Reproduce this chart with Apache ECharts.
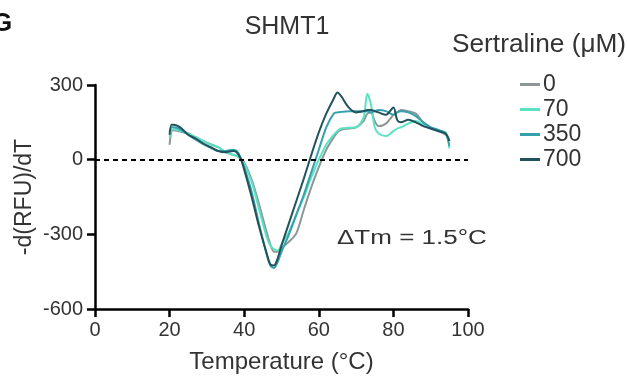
<!DOCTYPE html>
<html><head><meta charset="utf-8">
<script src="https://cdn.jsdelivr.net/npm/echarts@6/dist/echarts.min.js"></script>
<style>html,body{margin:0;padding:0;background:#fff}#c{width:627px;height:379px}</style>
</head><body><div id="c"></div>
<script>
const temps = [20,20.5,21,23,25,27,29,31,33,35,37,38,39,40,42,44,46,47,48,49,50,52,54,56,58,60,62,64,65,66,68,70,72,73,74,75,76,78,80,81,82,84,86,88,90,92,94,95];
const s0   = [60,115,118,112,105,90,75,62,50,30,20,15,5,-10,-80,-180,-290,-340,-370,-370,-355,-330,-295,-200,-110,-30,40,90,110,120,125,130,155,185,190,155,135,145,180,190,200,195,185,150,130,115,100,80];
const s70  = [90,120,122,115,105,90,75,60,50,30,20,15,5,-15,-90,-200,-310,-345,-360,-365,-340,-290,-220,-150,-70,0,60,100,115,125,128,130,170,265,220,130,105,95,115,125,130,145,155,140,125,115,110,45];
const s350 = [110,130,130,120,100,80,62,48,35,35,40,35,10,-30,-130,-260,-380,-425,-435,-410,-370,-300,-220,-140,-50,40,130,185,190,192,195,195,195,195,190,195,200,195,180,190,195,190,175,150,130,120,105,55];
const s700 = [100,140,140,128,100,85,65,50,35,30,35,30,5,-40,-150,-270,-375,-420,-425,-395,-345,-255,-165,-75,20,110,185,245,270,255,210,190,195,200,200,195,190,180,210,160,150,160,150,135,125,115,105,75];
const seriesNames = ['0','70','350','700'];
const seriesData = [s0, s70, s350, s700];
const colors = ['#8f9697','#5ae3c3','#36a0ac','#21535e'];
const xTicks = {min:0, max:100, interval:20};
const yTicks = {min:-600, max:300, interval:300};

const font = 'Liberation Sans, Arial, Helvetica, sans-serif';
const chart = echarts.init(document.getElementById('c'));
const series = seriesNames.map((n,i)=>({
  name:n, type:'line', smooth:0.3, symbol:'none',
  data: temps.map((t,j)=>[t, seriesData[i][j]]),
  lineStyle:{width:2, color:colors[i]}, itemStyle:{color:colors[i]}, z:3
}));
series[0].markLine = {
  symbol:'none', silent:true, label:{show:false},
  lineStyle:{type:[5,4], color:'#000', width:2},
  data:[[{coord:[0,0]},{coord:[100,0]}]]
};
chart.setOption({
  animation:false,
  textStyle:{fontFamily:font},
  title:{text:'SHMT1', left:282, top:10, textAlign:'center',
    textStyle:{fontFamily:font, fontSize:25, fontWeight:'normal', color:'#333'}},
  grid:{left:95, right:159, top:85, bottom:69},
  legend:{
    orient:'vertical', left:515, top:68, icon:'rect', itemWidth:20, itemHeight:3, itemGap:2,
    textStyle:{fontFamily:font, fontSize:23, color:'#333', padding:[0,0,0,-2], lineHeight:23},
    data:seriesNames
  },
  xAxis:{type:'value', min:xTicks.min, max:xTicks.max, interval:xTicks.interval,
    name:'Temperature (°C)', nameLocation:'middle', nameGap:41,
    nameTextStyle:{fontFamily:font, fontSize:24, color:'#333'},
    axisLine:{onZero:false, lineStyle:{color:'#000', width:2.5}},
    axisTick:{length:8, lineStyle:{color:'#000', width:2.5}},
    axisLabel:{fontFamily:font, fontSize:20, color:'#333', margin:11},
    splitLine:{show:false}},
  yAxis:{type:'value', min:yTicks.min, max:yTicks.max, interval:yTicks.interval,
    name:'-d(RFU)/dT', nameLocation:'middle', nameGap:59, nameRotate:90, nameMoveOverlap:false,
    nameTextStyle:{fontFamily:font, fontSize:23, color:'#333'},
    axisLine:{show:true, onZero:false, lineStyle:{color:'#000', width:2.5}},
    axisTick:{show:true, length:8, lineStyle:{color:'#000', width:2.5}},
    axisLabel:{fontFamily:font, fontSize:20, color:'#333', margin:12},
    splitLine:{show:false}},
  graphic:[
    {type:'text', left:-8, top:11, style:{text:'G', font:'bold 26px '+font, fill:'#111'}},
    {type:'text', x:452, y:33, scaleX:1.05, style:{text:'Sertraline (μM)', font:'25px '+font, fill:'#333'}},
    {type:'text', x:337, y:228, scaleX:1.3, style:{text:'ΔTm = 1.5°C', font:'20px '+font, fill:'#333'}}
  ],
  series:series
});
</script></body></html>
